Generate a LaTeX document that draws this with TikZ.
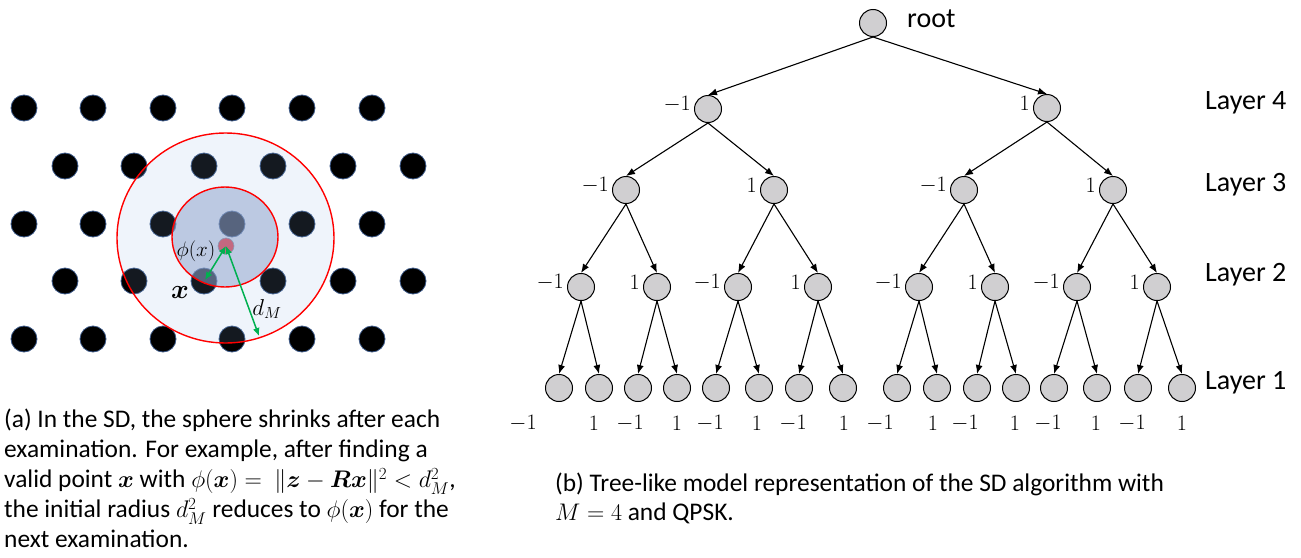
\RequirePackage{fix-cm}
\documentclass[tikz,border=0pt]{standalone}
\usepackage[no-math]{fontspec}
\setmainfont{Carlito}
\usepackage{amsmath,amssymb}
\usepackage{bm}
\usepackage{xcolor}
\usetikzlibrary{positioning,calc,arrows.meta}
\DeclareMathSizes{25.4}{24}{17}{13}

\definecolor{dotblue}{RGB}{59,88,135}
\definecolor{outerfill}{RGB}{143,180,227}
\definecolor{innerfill}{RGB}{145,165,206}
\definecolor{zpink}{RGB}{196,104,128}
\definecolor{distgreen}{RGB}{0,176,80}
\definecolor{nodegray}{RGB}{208,207,209}

\begin{document}
\begin{tikzpicture}[x=1pt, y=-1pt,
    lattice/.style={fill=black, draw=dotblue, line width=0.8pt},
    tnode/.style={circle, draw, fill=nodegray, line width=1pt, minimum size=27pt, inner sep=0pt},
    edge/.style={-{Latex[length=9pt,width=7pt]}, line width=1.1pt},
    dist/.style={{Latex[length=8pt,width=7pt]}-{Latex[length=8pt,width=7pt]}, distgreen, line width=1.5pt},
    val/.style={font=\fontsize{22}{22}\selectfont},
    lbl/.style={label={[val, inner sep=1pt, label distance=2pt, yshift=5pt]left:$#1$}},
    layer/.style={anchor=west, inner sep=0pt, font=\fontsize{28}{28}\selectfont},
    caption/.style={anchor=north west, align=left, inner sep=0pt}
]
\useasboundingbox (0,0) rectangle (1301,557);

% Lattice points
\foreach \y in {108,224,339}
    \foreach \x in {24,93,163,232,302,372}
        \filldraw[lattice] (\x,\y) circle (13pt);
\foreach \y in {166,281}
    \foreach \x in {65,134,204,273,343,413}
        \filldraw[lattice] (\x,\y) circle (13pt);

% Spheres
\fill[outerfill, fill opacity=0.14] (225.5,238) ellipse [x radius=108.5pt, y radius=105pt];
\fill[innerfill, fill opacity=0.54] (225,237) ellipse [x radius=53pt, y radius=50pt];
\draw[red, line width=1.4pt] (225.5,238) ellipse [x radius=108.5pt, y radius=105pt];
\draw[red, line width=1.4pt] (225,237) ellipse [x radius=53pt, y radius=50pt];

% Received point and distances
\coordinate (z) at (226,246);
\coordinate (xpt) at (205,280);
\coordinate (rim) at (259,336);
\filldraw[fill=zpink, draw=dotblue!60, line width=0.6pt] (z) circle (8pt);
\draw[dist] (z) -- (xpt);
\draw[dist] (z) -- (rim);
\node[font=\fontsize{21}{21}\selectfont, inner sep=1pt] (phi) at (196,251) {$\phi(x)$};
\node[font=\fontsize{27}{27}\selectfont] (xlab) at (180,292) {$\bm{x}$};
\node[font=\fontsize{23}{23}\selectfont] (dlab) at (267,309) {$d_M$};

% Caption (a)
\node[caption, font=\fontsize{25.4}{30}\selectfont] (capa) at (4,409)
    {(a) In the SD, the sphere shrinks after each\\
     examination. For example, after finding a\\
     valid point $\bm{x}$ with $\phi(\bm{x}) =\ \|\bm{z}-\bm{R}\bm{x}\|^2 < d_M^2$,\\
     the initial radius $d_M^2$ reduces to $\phi(\bm{x})$ for the\\
     next examination.};

% Tree
\node[tnode] (r) at (873,23) {};
\node[layer] (rootlab) at (907,19) {root};
\node[tnode, lbl=-1] (f1) at (708,109) {};
\node[tnode, lbl=1] (f2) at (1047,108) {};
\foreach \x/\v [count=\i] in {626/-1,774/1,964/-1,1113/1}
    \node[tnode, lbl=\v] (t\i) at (\x,190) {};
\foreach \x/\v [count=\i] in {581/-1,657/1,738/-1,818/1,919/-1,995/1,1077/-1,1157/1}
    \node[tnode, lbl=\v] (m\i) at (\x,287) {};
\foreach \x [count=\i] in {559,599,638,677,716,759,799,843,897,937,977,1016,1054,1097,1138,1182}
    \node[tnode] (l\i) at (\x,388) {};

% Branches
\draw[edge] (r.south) -- (f1.north);
\draw[edge] (r.south) -- (f2.north);
\foreach \i [evaluate=\i as \j using int(2*\i-1), evaluate=\i as \k using int(2*\i)] in {1,2} {
    \draw[edge] (f\i.south) -- (t\j.north);
    \draw[edge] (f\i.south) -- (t\k.north);
}
\foreach \i [evaluate=\i as \j using int(2*\i-1), evaluate=\i as \k using int(2*\i)] in {1,...,4} {
    \draw[edge] (t\i.south) -- (m\j.north);
    \draw[edge] (t\i.south) -- (m\k.north);
}
\foreach \i [evaluate=\i as \j using int(2*\i-1), evaluate=\i as \k using int(2*\i)] in {1,...,8} {
    \draw[edge] (m\i.south) -- (l\j.north);
    \draw[edge] (m\i.south) -- (l\k.north);
}

% Leaf values
\foreach \x/\v [count=\i] in {523/-1,594/1,630/-1,677/1,710/-1,757/1,793/-1,844/1,880/-1,933/1,965/-1,1015/1,1048/-1,1096/1,1132/-1,1182/1}
    \node[val] (v\i) at (\x,423) {$\v$};

% Layers
\node[layer] (lay4) at (1205,103) {Layer 4};
\node[layer] (lay3) at (1205,185) {Layer 3};
\node[layer] (lay2) at (1205,275) {Layer 2};
\node[layer] (lay1) at (1205,383) {Layer 1};

% Caption (b)
\node[caption, font=\fontsize{25.4}{29}\selectfont] (capb) at (555,473)
    {(b) Tree-like model representation of the SD algorithm with\\
     $M=4$ and QPSK.};
\end{tikzpicture}
\end{document}
